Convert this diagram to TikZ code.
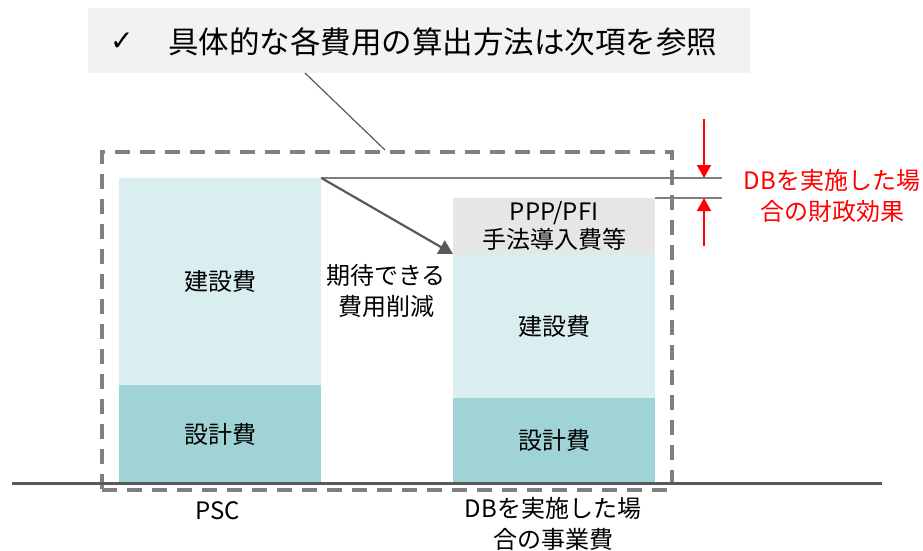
\documentclass[tikz,border=0pt]{standalone}
\usepackage{fontspec}
\setmainfont{Noto Sans CJK JP}
\newfontfamily\symfont{DejaVu Sans}
\usetikzlibrary{arrows.meta}
\definecolor{lightbar}{HTML}{DAEDEF}
\definecolor{darkbar}{HTML}{A0D3D6}
\definecolor{ppgray}{HTML}{E6E6E6}
\definecolor{callgray}{HTML}{F2F2F2}
\definecolor{dashgray}{HTML}{808080}
\definecolor{linegray}{HTML}{7F7F7F}
\definecolor{darkline}{HTML}{595959}
\definecolor{myred}{HTML}{FF0000}
\begin{document}
\begin{tikzpicture}[x=1pt,y=-1pt,
  seg/.style={draw=none,rectangle,inner sep=0pt,anchor=north west,minimum width=202pt,font=\fontsize{24}{31}\selectfont,align=center},
  lbl/.style={font=\fontsize{24}{31}\selectfont,align=center,inner sep=0pt},
  redlbl/.style={font=\fontsize{24}{31}\selectfont,align=center,inner sep=0pt,text=myred},
  redarrow/.style={draw=myred,line width=1.8pt,-{Triangle[length=13pt,width=14pt]}},
  thinline/.style={draw=linegray,line width=1.8pt}]
\useasboundingbox (0,0) rectangle (923,551);
% callout
\node[fill=callgray,minimum width=662pt,minimum height=65pt,inner sep=0pt,anchor=north west] (callout) at (88,8) {};
\node[anchor=west,inner sep=0pt,font=\fontsize{28}{30}\selectfont\symfont] (check) at (110,42) {✓};
\node[anchor=west,inner sep=0pt,font=\fontsize{30.5}{34}\selectfont] (calltext) at (168,42) {具体的な各費用の算出方法は次項を参照};
% bars PSC
\node[seg,fill=lightbar,minimum height=207pt] (pscbuild) at (119,178) {建設費};
\node[seg,fill=darkbar,minimum height=98pt] (pscdesign) at (119,385) {設計費};
% bars DB
\node[seg,fill=ppgray,minimum height=56pt] (dbppp) at (453,198) {PPP/PFI\\[-3pt]手法導入費等};
\node[seg,fill=lightbar,minimum height=144pt] (dbbuild) at (453,254) {建設費};
\node[seg,fill=darkbar,minimum height=85pt] (dbdesign) at (453,398) {設計費};
% dashed frame
\node[draw=dashgray,line width=3.5pt,dash pattern=on 15pt off 10pt,rectangle,inner sep=0pt,minimum width=570pt,minimum height=338pt,anchor=north west] (frame) at (100,150) {};
% callout leader
\coordinate (leadA) at (305,73);
\coordinate (leadB) at (385,150);
\draw[darkline,line width=1.2pt] (leadA) -- (leadB);
% ground line
\coordinate (gl) at (12,483);
\coordinate (gr) at (882,483);
\draw[darkline,line width=3pt] (gl) -- (gr);
% level lines
\coordinate (topend) at (722,178);
\coordinate (lowend) at (722,198);
\draw[thinline] (pscbuild.north east) -- (topend);
\draw[thinline] (dbppp.north east) -- (lowend);
% reduction arrow
\draw[darkline,line width=2.2pt,-{Triangle[length=14pt,width=15pt]}] (pscbuild.north east) -- (dbbuild.north west);
% red arrows
\coordinate (ra1) at (704,119);
\coordinate (ra1e) at (704,178);
\coordinate (ra2) at (704,246);
\coordinate (ra2e) at (704,198);
\draw[redarrow] (ra1) -- (ra1e);
\draw[redarrow] (ra2) -- (ra2e);
% labels
\node[redlbl] (effect) at (832,196) {DBを実施した場\\合の財政効果};
\node[lbl] (reduce) at (386,291) {期待できる\\費用削減};
\node[lbl] (psc) at (218,511) {PSC};
\node[lbl] (dbcost) at (553,524) {DBを実施した場\\合の事業費};
\end{tikzpicture}
\end{document}
